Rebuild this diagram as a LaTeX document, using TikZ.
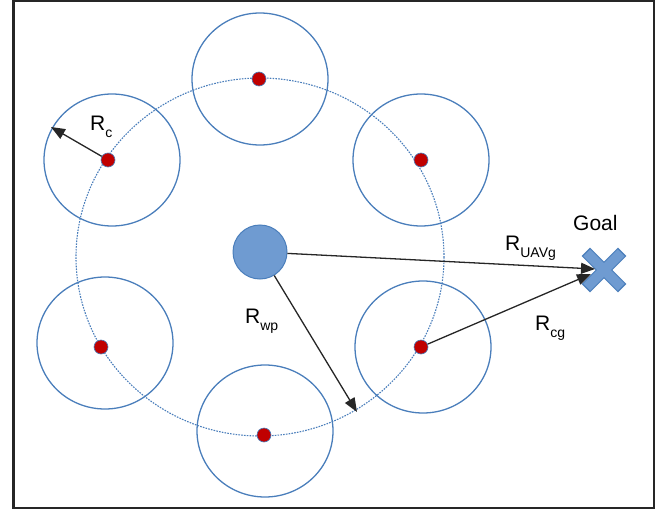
\documentclass[tikz,border=0pt]{standalone}
\usepackage{fontspec}
\setmainfont{Liberation Sans}
\usetikzlibrary{arrows.meta,shapes.geometric,calc}
\definecolor{ringblue}{HTML}{4A7EBB}
\definecolor{fillblue}{HTML}{6F9BD1}
\definecolor{dotred}{HTML}{C00000}
\newcommand{\mysub}[1]{\raisebox{-7pt}{\fontsize{14}{14}\selectfont #1}}
\tikzset{
  ring/.style={draw=ringblue, line width=1.3pt, ellipse, minimum width=136pt, minimum height=132pt, inner sep=0pt},
  wpdot/.style={circle, fill=dotred, draw=ringblue, line width=0.6pt, minimum size=14pt, inner sep=0pt},
  arr/.style={draw=black!85, line width=1.3pt, -{Triangle[length=14pt,width=11pt]}},
  lbl/.style={font=\fontsize{21}{24}\selectfont, anchor=base west, inner sep=0pt},
  xout/.style={ringblue, line width=12pt},
  xin/.style={fillblue, line width=9.6pt},
}
\begin{document}
\begin{tikzpicture}[x=1pt,y=-1pt]
\useasboundingbox (0,0) rectangle (669,511);
\draw[black!85, line width=2.5pt] (13.5,1.2) rectangle (654,508);
% big dashed path
\draw[ringblue, line width=1.1pt, dash pattern=on 1.6pt off 1.2pt] (260,257) ellipse [x radius=184, y radius=179];
% coverage rings
\node[ring] (c1) at (260,79) {};
\node[ring] (c2) at (421,160) {};
\node[ring] (c3) at (423,347) {};
\node[ring] (c4) at (265,431) {};
\node[ring] (c5) at (105,343) {};
\node[ring] (c6) at (112,160) {};
% waypoints
\node[wpdot] (w1) at (259,79) {};
\node[wpdot] (w2) at (421,160) {};
\node[wpdot] (w3) at (421,347) {};
\node[wpdot] (w4) at (264,435) {};
\node[wpdot] (w5) at (101,347) {};
\node[wpdot] (w6) at (108,160) {};
% UAV
\node[circle, fill=fillblue, draw=ringblue, line width=1pt, minimum size=54pt, inner sep=0pt] (uav) at (260,252) {};
% goal
\node[inner sep=0pt, minimum size=40pt] (goal) at (604,270) {};
\draw[xout] ($(goal.north west)+(2,2)$) -- ($(goal.south east)+(-2,-2)$);
\draw[xout] ($(goal.north east)+(-2,2)$) -- ($(goal.south west)+(2,-2)$);
\draw[xin] ($(goal.north west)+(3,3)$) -- ($(goal.south east)+(-3,-3)$);
\draw[xin] ($(goal.north east)+(-3,3)$) -- ($(goal.south west)+(3,-3)$);
\coordinate (goalA) at (595,269);
\coordinate (goalB) at (591,274);
\coordinate (rcend) at (51,127);
\coordinate (rwpend) at (357,412);
% arrows
\draw[arr] (uav) -- (goalA);
\draw[arr] (w3) -- (goalB);
\draw[arr] (uav) -- (rwpend);
\draw[arr] (w6) -- (rcend);
% labels
\node[lbl] (lgoal) at (573,230) {Goal};
\node[lbl] (luav) at (505,250) {R\mysub{UAVg}};
\node[lbl] (lcg) at (535,330) {R\mysub{cg}};
\node[lbl] (lwp) at (245,323) {R\mysub{wp}};
\node[lbl] (lc) at (90,130) {R\mysub{c}};
\end{tikzpicture}
\end{document}
